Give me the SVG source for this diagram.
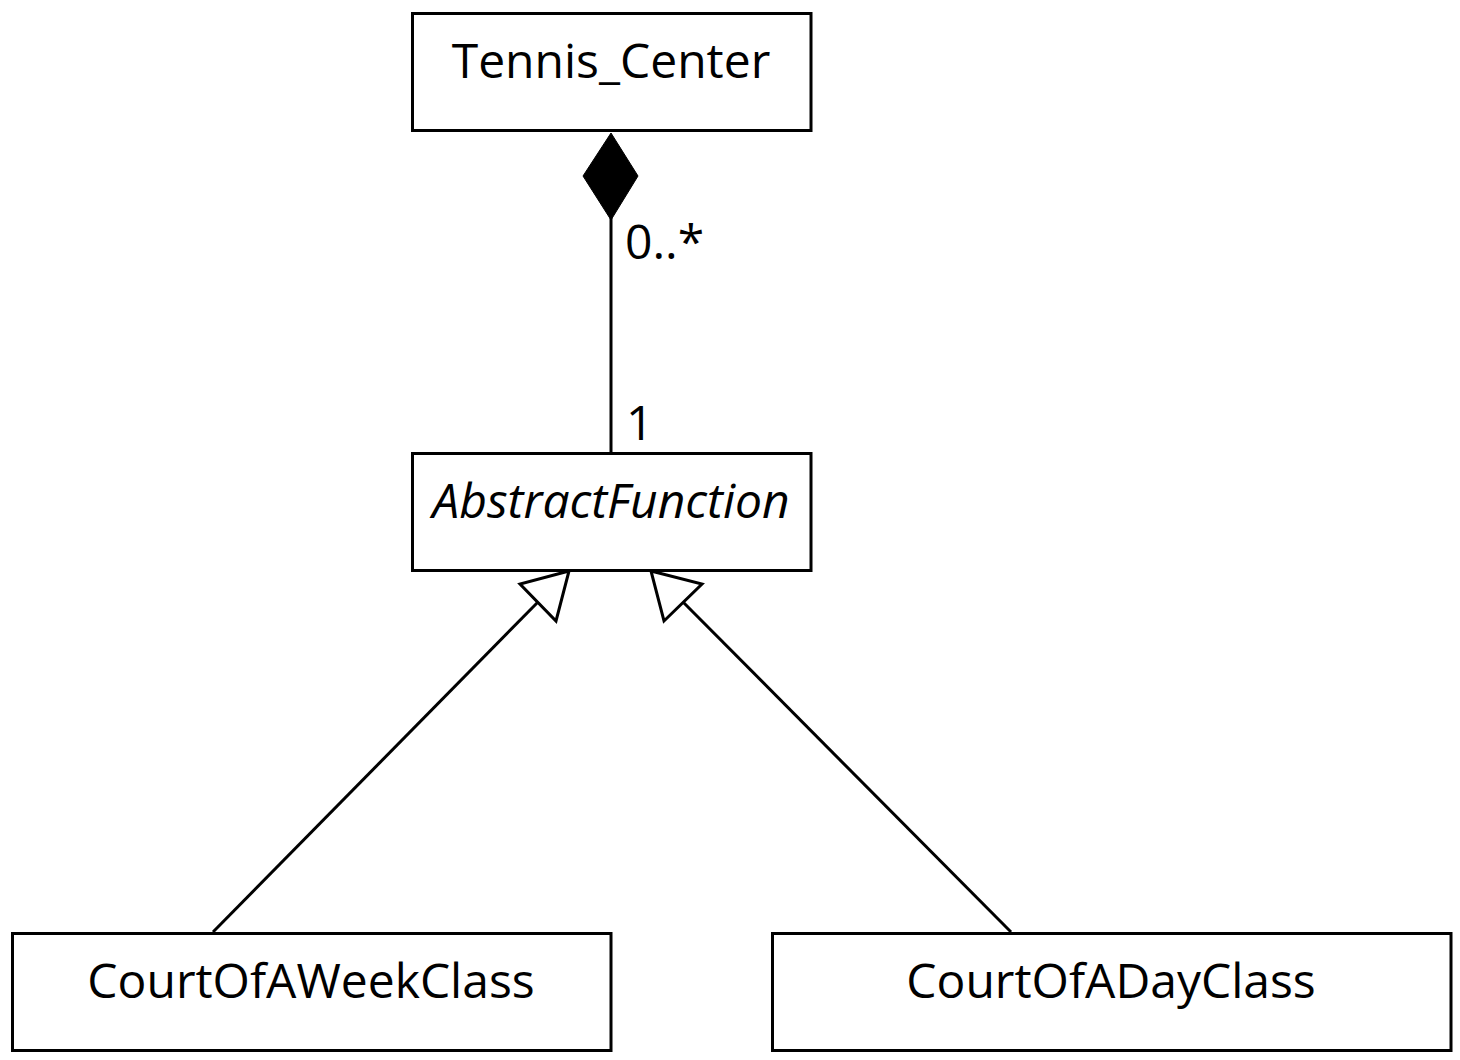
<svg xmlns="http://www.w3.org/2000/svg" width="1460" height="1060" viewBox="0 0 1460 1060">
<style>
.box{fill:#fff;stroke:#000;stroke-width:3}
.t{font-family:"Open Sans","Noto Sans",sans-serif;font-size:48px;fill:#000;text-anchor:middle}
.lbl{font-family:"Open Sans","Noto Sans",sans-serif;font-size:48px;fill:#000}
.ln{stroke:#000;stroke-width:3;fill:none}
.tri{stroke:#000;stroke-width:3;fill:#fff;stroke-linejoin:miter}
</style>
<rect width="1460" height="1060" fill="#fff"/>
<g id="connectors">
<line class="ln" x1="611" y1="218" x2="611" y2="452"/>
<polygon points="611,133 638,176 611,220 583,176" fill="#000" stroke="#000" stroke-width="1"/>
<line class="ln" x1="213" y1="932" x2="538" y2="602"/>
<polygon class="tri" points="569,571 520,584 556,621"/>
<line class="ln" x1="1011" y1="932" x2="683" y2="602"/>
<polygon class="tri" points="651,571 702,584 664,621"/>
<text class="lbl" x="625" y="259">0..*</text>
<text class="lbl" x="626" y="440">1</text>
</g>
<g id="tennis_center">
<rect class="box" x="412.5" y="13.5" width="398.5" height="117"/>
<text class="t" x="611" y="78">Tennis_Center</text>
</g>
<g id="abstract_function">
<rect class="box" x="412.5" y="453.5" width="398.5" height="117"/>
<text class="t" x="611" y="518" font-style="italic">AbstractFunction</text>
</g>
<g id="court_week">
<rect class="box" x="12.5" y="933.5" width="598.5" height="117"/>
<text class="t" x="311" y="998">CourtOfAWeekClass</text>
</g>
<g id="court_day">
<rect class="box" x="772.5" y="933.5" width="678.5" height="117"/>
<text class="t" x="1111" y="998">CourtOfADayClass</text>
</g>
</svg>
